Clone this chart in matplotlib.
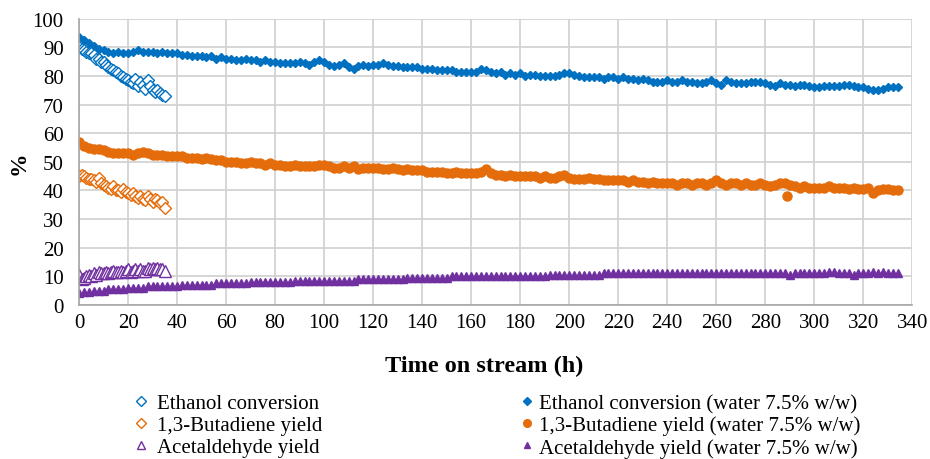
import matplotlib
matplotlib.use("Agg")
import matplotlib.pyplot as plt
from matplotlib.lines import Line2D

plt.rcParams['font.family'] = ['Liberation Serif', 'DejaVu Serif']

# ---- data: dry feed (open markers) ----
dry_time = list(range(0, 36))
dry_ethanol = [90.0, 89.5, 89.0, 88.5, 88.0, 88.0, 87.5, 86.0, 86.0, 85.0,
               85.0, 84.0, 83.0, 82.5, 82.0, 81.5, 81.0, 80.0, 79.5, 79.0,
               78.5, 78.0, 77.5, 79.0, 76.5, 78.0, 77.0, 75.5, 78.5, 76.5,
               75.0, 74.5, 75.0, 74.0, 73.5, 73.0]
dry_butadiene = [45.0, 45.5, 45.0, 44.5, 44.0, 44.0, 43.5, 43.0, 44.5, 42.5,
                 42.0, 41.5, 41.0, 40.5, 41.5, 40.0, 40.0, 39.5, 40.5, 39.5,
                 39.0, 38.5, 39.0, 38.0, 37.5, 38.0, 37.0, 36.5, 38.0, 37.0,
                 36.0, 37.0, 36.5, 35.5, 36.0, 34.0]
dry_acetaldehyde = [10.5, 9.0, 9.5, 10.0, 10.5, 10.0, 11.0, 10.5, 11.5, 11.0,
                    11.0, 11.5, 11.0, 11.5, 12.0, 11.5, 11.5, 12.0, 11.5, 12.0,
                    12.5, 11.5, 12.0, 12.5, 12.0, 12.5, 12.0, 12.0, 13.0, 12.5,
                    13.0, 12.5, 13.0, 12.5, 12.5, 12.0]

# ---- data: water 7.5% w/w (filled markers) ----
wet_time = list(range(0, 336, 2))
wet_ethanol = [
    93.5, 92.5, 91.5, 90.5, 89.5, 89.0, 88.5, 88.0, 88.5, 88.0,
    88.0, 88.5, 89.0, 88.5, 88.5, 88.5, 88.0, 88.5, 88.0, 88.0,
    88.0, 87.5, 87.5, 87.0, 87.0, 87.0, 86.5, 87.0, 86.0, 86.5,
    86.0, 86.0, 85.5, 85.5, 86.0, 85.5, 85.5, 85.0, 85.5, 85.0,
    85.0, 84.5, 84.5, 84.5, 84.5, 85.0, 84.5, 84.0, 85.0, 85.5,
    85.0, 84.0, 83.5, 84.0, 84.5, 83.0, 82.5, 83.5, 84.0, 83.5,
    84.0, 84.0, 84.5, 84.0, 83.5, 83.5, 83.0, 83.0, 83.0, 83.0,
    82.5, 82.5, 82.5, 82.0, 82.0, 82.0, 82.0, 81.5, 81.5, 81.5,
    81.5, 81.5, 82.5, 82.0, 81.5, 81.0, 81.5, 80.5, 81.0, 80.5,
    81.0, 80.0, 80.5, 80.5, 80.0, 80.0, 80.0, 80.0, 80.5, 81.0,
    81.0, 80.5, 80.0, 79.5, 79.5, 79.5, 79.5, 79.0, 79.5, 79.5,
    79.0, 79.5, 79.0, 79.0, 78.5, 79.0, 78.5, 78.0, 78.0, 78.0,
    78.5, 78.0, 78.0, 78.5, 78.0, 78.0, 77.5, 77.5, 78.0, 78.5,
    77.5, 77.0, 78.5, 78.0, 77.5, 77.5, 77.5, 78.0, 78.0, 78.0,
    77.5, 77.0, 76.5, 77.5, 77.0, 77.0, 76.5, 77.0, 77.0, 76.5,
    76.0, 76.0, 76.5, 76.5, 76.5, 76.5, 77.0, 77.0, 76.5, 76.0,
    76.0, 75.5, 75.0, 75.0, 75.5, 76.0, 76.0, 76.0]
wet_butadiene = [
    57.0, 55.5, 55.0, 54.5, 54.5, 54.0, 53.5, 53.0, 53.0, 53.0,
    53.0, 52.5, 53.0, 53.5, 53.0, 52.5, 52.5, 52.5, 52.0, 52.0,
    52.0, 52.0, 51.5, 51.5, 51.5, 51.0, 51.5, 51.0, 50.5, 50.5,
    50.0, 50.0, 50.0, 49.5, 49.5, 50.0, 49.5, 49.5, 49.0, 49.5,
    49.0, 49.0, 48.5, 48.5, 49.0, 48.5, 48.5, 48.5, 48.5, 49.0,
    49.0, 48.5, 48.0, 48.0, 48.5, 48.0, 48.5, 47.5, 48.0, 48.0,
    48.0, 48.0, 47.5, 47.5, 48.0, 47.5, 47.0, 47.5, 47.0, 47.0,
    47.0, 46.5, 46.5, 46.5, 46.5, 46.0, 46.0, 46.5, 46.0, 46.0,
    46.0, 46.0, 46.5, 47.5, 46.0, 45.5, 45.5, 45.0, 45.5, 45.0,
    45.0, 45.0, 45.0, 45.0, 44.5, 45.0, 44.5, 44.5, 45.0, 45.5,
    44.5, 44.0, 44.0, 44.0, 44.5, 44.0, 44.0, 43.5, 43.5, 43.5,
    43.5, 43.5, 43.0, 43.5, 43.0, 43.0, 42.5, 43.0, 42.5, 42.5,
    42.5, 42.5, 42.0, 42.5, 42.5, 42.0, 42.5, 42.5, 42.0, 42.5,
    43.5, 42.5, 42.0, 42.5, 42.5, 42.0, 42.5, 42.0, 42.0, 42.5,
    42.0, 41.5, 42.0, 42.5, 42.5, 42.0, 41.5, 41.0, 41.5, 41.0,
    41.0, 41.0, 41.0, 41.5, 41.0, 41.0, 41.0, 40.5, 41.0, 40.5,
    40.5, 41.0, 39.0, 40.0, 40.5, 40.5, 40.0, 40.0]
wet_butadiene_outlier_time = [289]
wet_butadiene_outlier = [38.0]
wet_acetaldehyde = [
    4.0, 4.5, 4.5, 5.0, 5.0, 5.0, 5.5, 5.5, 5.5, 5.5,
    6.0, 6.0, 6.0, 6.0, 6.5, 6.5, 6.5, 6.5, 6.5, 6.5,
    6.5, 7.0, 7.0, 7.0, 7.0, 7.0, 7.0, 7.0, 7.5, 7.5,
    7.5, 7.5, 7.5, 7.5, 7.5, 8.0, 8.0, 8.0, 8.0, 8.0,
    8.0, 8.0, 8.0, 8.0, 8.5, 8.5, 8.5, 8.5, 8.5, 8.5,
    8.5, 8.5, 8.5, 8.5, 8.5, 8.5, 8.5, 9.0, 9.0, 9.0,
    9.0, 9.0, 9.0, 9.0, 9.0, 9.0, 9.0, 9.5, 9.5, 9.5,
    9.5, 9.5, 9.5, 9.5, 9.5, 9.5, 10.0, 10.0, 10.0, 10.0,
    10.0, 10.0, 10.0, 10.0, 10.0, 10.0, 10.0, 10.0, 10.0, 10.0,
    10.0, 10.0, 10.0, 10.0, 10.0, 10.0, 10.5, 10.5, 10.5, 10.5,
    10.5, 10.5, 10.5, 10.5, 10.5, 10.5, 10.5, 11.0, 11.0, 11.0,
    11.0, 11.0, 11.0, 11.0, 11.0, 11.0, 11.0, 11.0, 11.0, 11.0,
    11.0, 11.0, 11.0, 11.0, 11.0, 11.0, 11.0, 11.0, 11.0, 11.0,
    11.0, 11.0, 11.0, 11.0, 11.0, 11.0, 11.0, 11.0, 11.0, 11.0,
    11.0, 11.0, 11.0, 11.0, 11.0, 10.5, 11.0, 11.0, 11.0, 11.0,
    11.0, 11.0, 11.0, 11.5, 11.5, 11.0, 11.0, 11.0, 10.5, 11.0,
    11.0, 11.0, 11.5, 11.0, 11.5, 11.0, 11.0, 11.0]

labels_dry = ["Ethanol conversion", "1,3-Butadiene yield", "Acetaldehyde yield"]
labels_wet = ["Ethanol conversion (water 7.5% w/w)",
              "1,3-Butadiene yield (water 7.5% w/w)",
              "Acetaldehyde yield (water 7.5% w/w)"]

BLUE = "#0070C0"
ORANGE = "#E46C0A"
PURPLE = "#7030A0"

fig = plt.figure(figsize=(9.3, 4.6), dpi=100)
ax = fig.add_axes([0.085, 0.335, 0.896, 0.622])

# water series
ax.plot(wet_time, wet_ethanol, ls="none", marker="D", ms=4.5, color=BLUE, mec=BLUE)
ax.plot(wet_time, wet_butadiene, ls="none", marker="o", ms=6.5, color=ORANGE, mec=ORANGE)
ax.plot(wet_butadiene_outlier_time, wet_butadiene_outlier, ls="none", marker="o", ms=6.5,
        color=ORANGE, mec=ORANGE)
ax.plot(wet_time, wet_acetaldehyde, ls="none", marker="^", ms=5.5, color=PURPLE, mec=PURPLE)

# dry series
ax.plot(dry_time, dry_ethanol, ls="none", marker="D", ms=6.5, mfc="white", mec=BLUE, mew=1)
ax.plot(dry_time, dry_butadiene, ls="none", marker="D", ms=6.5, mfc="white", mec=ORANGE, mew=1)
ax.plot(dry_time, dry_acetaldehyde, ls="none", marker="^", ms=8, mfc="white", mec=PURPLE, mew=1)

ax.set_xlim(0, 340)
ax.set_ylim(0, 100)
ax.set_xticks(range(0, 341, 20))
ax.set_yticks(range(0, 101, 10))
ax.grid(True, color="#D0D0D0", lw=1.2)
ax.set_axisbelow(True)
for s in ["top", "right"]:
    ax.spines[s].set_visible(False)
for s in ["left", "bottom"]:
    ax.spines[s].set_color("#A6A6A6")
    ax.spines[s].set_linewidth(1.2)
ax.tick_params(axis="both", length=0, labelsize=15)
ax.tick_params(axis="x", pad=6)
ax.tick_params(axis="y", pad=11)
ax.set_xlabel("Time on stream (h)", fontsize=17.5, fontweight="bold", labelpad=10)
ax.xaxis.set_label_coords(0.486, -0.175)
ax.set_ylabel("%", fontsize=17, fontweight="bold", labelpad=2)

h_dry = [Line2D([], [], ls="none", marker="D", ms=5, mfc="white", mec=BLUE),
         Line2D([], [], ls="none", marker="D", ms=5, mfc="white", mec=ORANGE),
         Line2D([], [], ls="none", marker="^", ms=5.5, mfc="white", mec=PURPLE)]
h_wet = [Line2D([], [], ls="none", marker="D", ms=4, color=BLUE),
         Line2D([], [], ls="none", marker="o", ms=5.5, color=ORANGE),
         Line2D([], [], ls="none", marker="^", ms=5, color=PURPLE)]

leg_kw = dict(frameon=False, fontsize=15, handlelength=0.8,
              labelspacing=0.12, borderpad=0, borderaxespad=0)
fig.legend(h_dry, labels_dry, loc="upper left", bbox_to_anchor=(0.143, 0.142),
           handletextpad=0.35, **leg_kw)
fig.legend(h_wet, labels_wet, loc="upper left", bbox_to_anchor=(0.558, 0.142),
           handletextpad=0.15, **leg_kw)

fig.savefig("out.png", dpi=100)
